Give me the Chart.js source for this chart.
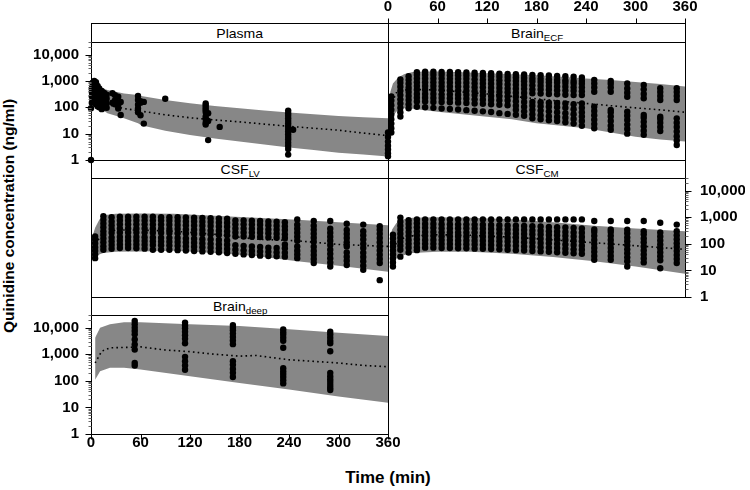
<!DOCTYPE html>
<html>
<head>
<meta charset="utf-8">
<script src="https://cdn.jsdelivr.net/npm/chart.js@4.4.1/dist/chart.umd.min.js"></script>
<style>
  body { margin: 0; background: #fff; }
  #wrap { position: relative; width: 750px; height: 490px; overflow: hidden; background: #fff;
          font-family: "Liberation Sans", Arial, Helvetica, sans-serif; color: #000; }
  #wrap canvas { position: absolute; left: 0; top: 0; }
  .strip { position: absolute; box-sizing: border-box; border: 1px solid #000;
           display: flex; align-items: center; justify-content: center; }
  .strip span { display: inline-block; font-size: 13px; line-height: 1; transform: scaleX(1.08); }
  .strip sub { font-size: 9px; line-height: 0; vertical-align: -3px; }
  .title { position: absolute; font-weight: bold; white-space: nowrap; line-height: 1; }
</style>
</head>
<body>
<div id="wrap">
  <div class="strip" style="left:91px;top:23px;width:298px;height:20px"><span>Plasma</span></div>
  <div class="strip" style="left:388px;top:23px;width:298px;height:20px"><span>Brain<sub>ECF</sub></span></div>
  <div class="strip" style="left:91px;top:160px;width:298px;height:19px"><span>CSF<sub>LV</sub></span></div>
  <div class="strip" style="left:388px;top:160px;width:298px;height:19px"><span>CSF<sub>CM</sub></span></div>
  <div class="strip" style="left:91px;top:297px;width:298px;height:19px"><span>Brain<sub>deep</sub></span></div>
  <div class="title" style="left:9px;top:216px;font-size:15.5px;transform:translate(-50%,-50%) rotate(-90deg)">Quinidine concentration (ng/ml)</div>
  <div class="title" style="left:388px;top:478px;font-size:16px;transform:translate(-50%,-50%) scaleX(1.06)">Time (min)</div>
</div>
<script>
/* axis ticks */
const X_TICKS = [0, 60, 120, 180, 240, 300, 360];
const Y_MIN = 1;
const Y_MAX = 30000;

/* ---- Plasma ---- */
const plasmaObsTimes = [0, 1, 2, 4, 6, 8, 10, 13, 16, 19, 26, 29, 33, 36, 57, 60, 64, 90, 139, 142, 156, 239, 245];
const plasmaObsValues = [
  [1, 92], [150, 260, 380, 520], [200, 320, 450, 650, 850], [180, 300, 420, 600, 800, 1000],
  [130, 220, 350, 500, 700, 900], [110, 200, 300, 450, 650], [100, 170, 260, 380, 520],
  [85, 130, 200, 300, 420], [100, 160, 240, 350], [95, 140, 210, 300],
  [150, 340], [130, 180, 290], [90, 120, 250], [51, 160],
  [65, 90, 125, 190, 270], [50, 150, 170], [24, 160], [210],
  [22, 26, 36, 45, 66, 80, 95, 118, 140], [5.7, 30, 60], [18],
  [1.6, 2.6, 3.5, 4.5, 6, 7.5, 9.5, 12, 15, 19, 24, 30, 38, 48, 60, 75], [14]
];
const plasmaBandTimes = [3, 8, 20, 40, 57, 61, 90, 120, 150, 180, 210, 240, 270, 300, 330, 360];
const plasmaBandUpper = [750, 600, 450, 330, 290, 270, 190, 142, 112, 92, 76, 63, 54, 47, 42, 38];
const plasmaBandLower = [110, 105, 60, 38, 25, 21, 13, 8.9, 6.5, 5, 3.9, 3, 2.4, 1.9, 1.6, 1.35];
const plasmaMedTimes = [5, 10, 20, 40, 60, 90, 120, 150, 180, 210, 240, 270, 300, 330, 360];
const plasmaMedValues = [280, 200, 125, 90, 72, 52, 40, 33, 28, 23, 19, 16, 13.5, 10.5, 8.4];

/* ---- Brain ECF ---- */
const ecfObsTimes = [0, 4, 15, 25, 35, 45, 55, 65, 75, 85, 95, 105, 115, 125, 135, 145, 155, 165,
  175, 185, 195, 205, 215, 225, 235, 250, 270, 290, 310, 330, 350];
const ecfObsValues = [
  [1.4, 1.8, 2.5, 3.5, 5, 7.5, 11],
  [11, 16, 24, 35, 52, 80, 120, 180, 260],
  [45, 65, 95, 140, 200, 290, 420, 600, 850, 1150],
  [92, 130, 190, 270, 380, 550, 780, 1100, 1500],
  [105, 165, 230, 320, 460, 640, 900, 1250, 1700, 2150],
  [100, 165, 230, 320, 460, 640, 900, 1250, 1700, 2250],
  [95, 160, 225, 320, 460, 640, 900, 1250, 1700, 2250],
  [90, 160, 225, 310, 450, 630, 880, 1250, 1700, 2200],
  [86, 155, 220, 310, 440, 620, 870, 1200, 1650, 2200],
  [82, 150, 215, 300, 430, 610, 860, 1200, 1650, 2150],
  [78, 145, 210, 300, 420, 600, 850, 1200, 1600, 2100],
  [74, 140, 200, 290, 410, 580, 820, 1150, 1600, 2050],
  [70, 135, 195, 280, 400, 570, 800, 1100, 1550, 2000],
  [66, 130, 190, 270, 390, 550, 780, 1100, 1500, 1950],
  [60, 125, 185, 265, 380, 540, 760, 1050, 1450, 1900],
  [56, 120, 180, 260, 370, 520, 740, 1050, 1400, 1850],
  [52, 80, 115, 170, 250, 360, 510, 720, 1000, 1350, 1800],
  [48, 70, 105, 160, 240, 350, 500, 700, 980, 1300, 1750],
  [38, 55, 80, 115, 160, 340, 480, 680, 950, 1250, 1700],
  [35, 50, 75, 110, 155, 330, 470, 660, 920, 1200, 1650],
  [32, 46, 70, 105, 150, 320, 460, 640, 900, 1150, 1600],
  [30, 43, 65, 100, 145, 310, 440, 620, 870, 1100, 1550],
  [27, 40, 60, 95, 140, 300, 430, 600, 840, 1050, 1500],
  [24, 36, 55, 85, 130, 290, 420, 580, 800, 1000, 1450],
  [20, 30, 45, 65, 95, 140, 290, 410, 570, 780, 1000, 1350],
  [16, 23, 34, 50, 72, 105, 390, 560, 800, 1100],
  [14, 20, 30, 45, 65, 80, 390, 560, 780, 1000],
  [10, 15, 22, 33, 48, 68, 250, 360, 520, 800],
  [9, 13, 19, 28, 40, 51, 220, 320, 480, 700],
  [12.5, 18, 26, 36, 44, 190, 270, 380, 530],
  [3.7, 5.5, 8, 12, 18, 26, 38, 190, 270, 380, 530]
];
const ecfBandTimes = [1, 3, 6, 10, 15, 20, 30, 45, 60, 90, 120, 150, 180, 210, 240, 270, 300, 330, 360];
const ecfBandUpper = [150, 400, 800, 1100, 1500, 1850, 2200, 2300, 2300, 2150, 1950, 1800, 1650, 1450, 1250, 1080, 920, 760, 610];
const ecfBandLower = [8, 20, 45, 68, 85, 92, 88, 78, 68, 55, 44, 35, 25, 20, 16, 11, 7.7, 6, 5];
const ecfMedTimes = [2, 5, 10, 20, 30, 60, 90, 120, 150, 180, 210, 240, 270, 300, 330, 360];
const ecfMedValues = [30, 150, 350, 450, 480, 450, 380, 320, 260, 210, 170, 140, 115, 95, 80, 65];

/* ---- CSF LV ---- */
const lvObsTimes = [5, 15, 25, 35, 45, 55, 65, 75, 85, 95, 105, 115, 125, 135, 145, 155, 165,
  175, 185, 195, 205, 215, 225, 235, 250, 270, 290, 310, 330, 350];
const lvObsValues = [
  [29, 40, 55, 75, 105, 145, 190],
  [60, 82, 115, 160, 220, 300, 420, 580, 800, 1100],
  [65, 90, 125, 175, 260, 360, 500, 700, 1000],
  [70, 95, 130, 180, 270, 380, 540, 760, 1050],
  [70, 95, 130, 180, 270, 380, 540, 760, 1050],
  [68, 95, 130, 180, 270, 380, 540, 760, 1050],
  [66, 92, 128, 178, 265, 380, 540, 760, 1050],
  [60, 90, 125, 175, 260, 370, 530, 750, 1050],
  [60, 88, 122, 170, 260, 370, 530, 750, 1000],
  [60, 86, 120, 168, 255, 360, 520, 740, 1000],
  [58, 84, 118, 165, 250, 360, 510, 720, 1000],
  [56, 82, 115, 160, 245, 350, 500, 700, 980],
  [54, 78, 110, 155, 240, 340, 490, 690, 960],
  [52, 75, 105, 150, 235, 330, 480, 680, 950],
  [50, 72, 100, 145, 230, 320, 470, 660, 920],
  [48, 68, 96, 140, 220, 310, 450, 640, 900],
  [45, 64, 92, 135, 210, 300, 440, 620, 880],
  [42, 60, 88, 190, 270, 380, 540, 760],
  [40, 57, 84, 190, 270, 380, 540, 760],
  [38, 54, 80, 185, 265, 370, 530, 740],
  [36, 52, 76, 180, 260, 360, 520, 720],
  [35, 50, 72, 175, 250, 350, 500, 700],
  [34, 48, 70, 170, 240, 340, 480, 680],
  [33, 46, 68, 95, 165, 230, 330, 460, 650],
  [29, 40, 55, 80, 130, 185, 260, 370, 520, 830],
  [19, 27, 38, 54, 78, 120, 170, 240, 340, 480, 720],
  [14, 20, 29, 42, 60, 90, 130, 185, 260, 370, 720],
  [16, 23, 33, 47, 80, 115, 165, 235, 330, 570],
  [10.5, 15, 22, 32, 46, 70, 100, 145, 210, 300, 530],
  [4.3, 19, 27, 39, 56, 80, 115, 165, 240, 340, 460]
];
const lvBandTimes = [2, 5, 10, 15, 30, 60, 100, 150, 200, 250, 300, 360];
const lvBandUpper = [200, 400, 800, 1200, 1350, 1400, 1350, 1150, 950, 800, 650, 500];
const lvBandLower = [20, 30, 40, 45, 50, 52, 55, 45, 35, 22, 15, 9];
const lvMedTimes = [5, 15, 30, 60, 100, 150, 200, 250, 300, 360];
const lvMedValues = [100, 250, 330, 330, 300, 230, 150, 130, 95, 80];

/* ---- CSF CM ---- */
const cmObsTimes = [6, 15, 25, 35, 45, 55, 65, 75, 85, 95, 105, 115, 125, 135, 145, 155, 165,
  175, 185, 195, 205, 215, 225, 235, 250, 270, 290, 310, 330, 350];
const cmObsValues = [
  [14, 20, 28, 40, 56, 80, 110, 160, 220],
  [33, 60, 85, 120, 170, 240, 340, 480, 680, 970],
  [47, 72, 100, 140, 200, 280, 400, 560, 780],
  [58, 75, 105, 150, 210, 300, 420, 600, 830],
  [72, 100, 140, 200, 280, 400, 560, 830],
  [72, 100, 140, 200, 280, 400, 560, 830],
  [70, 98, 138, 195, 275, 390, 550, 830],
  [70, 98, 138, 195, 275, 390, 550, 830],
  [68, 96, 135, 190, 270, 385, 540, 830],
  [68, 96, 135, 190, 270, 385, 540, 830],
  [66, 94, 132, 185, 265, 380, 530, 830],
  [65, 92, 130, 185, 260, 370, 520, 830],
  [64, 90, 128, 180, 255, 360, 510, 830],
  [62, 88, 125, 175, 250, 355, 500, 830],
  [60, 86, 122, 170, 245, 350, 490, 830],
  [58, 84, 120, 170, 240, 340, 480, 830],
  [56, 80, 115, 165, 235, 330, 470, 830],
  [54, 78, 112, 160, 230, 320, 460, 830],
  [52, 75, 108, 155, 225, 310, 450, 830],
  [50, 72, 105, 150, 215, 300, 430, 830],
  [48, 70, 100, 145, 210, 290, 420, 830],
  [46, 66, 95, 140, 200, 280, 410, 830],
  [44, 62, 90, 130, 190, 270, 400, 830],
  [42, 60, 85, 125, 180, 260, 380, 830],
  [25, 35, 50, 70, 100, 140, 200, 280, 350, 720],
  [25, 35, 50, 70, 100, 140, 200, 280, 350, 720],
  [14, 22, 31, 44, 62, 88, 125, 175, 250, 340, 720],
  [20, 28, 40, 56, 80, 115, 160, 230, 300, 720],
  [12, 24, 34, 48, 68, 95, 135, 190, 270, 620],
  [19, 27, 38, 54, 76, 105, 150, 210, 300, 530]
];
const cmBandTimes = [2, 5, 10, 15, 30, 60, 100, 150, 200, 250, 300, 360];
const cmBandUpper = [150, 350, 600, 800, 950, 1000, 950, 850, 650, 480, 380, 300];
const cmBandLower = [15, 20, 28, 35, 45, 50, 50, 42, 32, 22, 14, 7.5];
const cmMedTimes = [5, 15, 30, 60, 100, 150, 200, 250, 300, 360];
const cmMedValues = [70, 150, 200, 220, 210, 180, 140, 110, 85, 62];

/* ---- Brain deep ---- */
const deepObsTimes = [53, 114, 172, 233, 290];
const deepObsValues = [
  [375, 470, 1500, 2350, 3600, 5600, 7500, 10000, 13500, 18000],
  [260, 380, 550, 800, 2600, 3800, 5200, 7000, 9500, 12000, 15500],
  [140, 200, 280, 400, 550, 2400, 3300, 4500, 6000, 8000, 10000, 12500],
  [80, 105, 140, 180, 230, 300, 1750, 3200, 4200, 5500, 6800, 8500],
  [45, 55, 70, 90, 115, 150, 200, 1300, 2600, 3200, 4200, 5500, 7000]
];
const deepBandTimes = [5, 11, 23, 40, 60, 120, 180, 240, 300, 360];
const deepBandUpper = [4200, 10000, 13500, 16000, 16000, 13500, 11500, 8800, 6500, 4900];
const deepBandLower = [110, 230, 310, 310, 270, 150, 83, 47, 26, 15];
const deepMedTimes = [5, 13, 23, 40, 60, 90, 120, 150, 180, 200, 240, 255, 300, 330, 360];
const deepMedValues = [470, 1300, 1750, 1800, 1900, 1450, 1250, 1000, 850, 900, 620, 580, 470, 380, 340];

Chart.defaults.font.family = '"Liberation Sans", Arial, Helvetica, sans-serif';
Chart.defaults.color = '#000';

const BAND_GREY = '#878787';
const tickFont = { size: 15, weight: 'bold' };

function columns(times, values) {
  const pts = [];
  times.forEach((t, i) => values[i].forEach(v => pts.push({ x: t, y: v })));
  return pts;
}
function curve(times, values) {
  return times.map((t, i) => ({ x: t, y: values[i] }));
}
function isDecade(v) {
  const l = Math.log10(v);
  return Math.abs(l - Math.round(l)) < 1e-6;
}

// border round the plot + tick marks (short ones for the minor log ticks)
const framePlugin = {
  id: 'frame',
  afterDraw(chart, _args, opts) {
    const { ctx, chartArea: a, scales } = chart;
    const L = Math.round(a.left) + 0.5, R = Math.round(a.right) + 0.5;
    const T = Math.round(a.top) + 0.5, B = Math.round(a.bottom) + 0.5;
    ctx.save();
    ctx.lineWidth = 1;
    ctx.strokeStyle = '#000';
    ctx.strokeRect(L, T, R - L, B - T);
    if (opts.ySide) {
      const x0 = opts.ySide === 'left' ? L : R;
      const dir = opts.ySide === 'left' ? -1 : 1;
      for (let e = 0; e <= 4; e++) {
        for (let m = 1; m <= 9; m++) {
          const v = m * Math.pow(10, e);
          if (v > Y_MAX) break;
          const py = Math.round(scales.y.getPixelForValue(v)) + 0.5;
          ctx.strokeStyle = m === 1 ? '#000' : '#666';
          ctx.beginPath();
          ctx.moveTo(x0, py);
          ctx.lineTo(x0 + dir * (m === 1 ? 6 : 3), py);
          ctx.stroke();
        }
      }
    }
    if (opts.xSide) {
      const y0 = opts.xSide === 'top' ? opts.xEdge + 0.5 : B;
      const dir = opts.xSide === 'top' ? -1 : 1;
      ctx.strokeStyle = '#000';
      X_TICKS.forEach(t => {
        const px = Math.round(scales.x.getPixelForValue(t)) + 0.5;
        ctx.beginPath();
        ctx.moveTo(px, y0);
        ctx.lineTo(px, y0 + dir * 5);
        ctx.stroke();
      });
    }
    ctx.restore();
  }
};

function yScale(side) {
  const s = {
    type: 'logarithmic', min: Y_MIN, max: Y_MAX,
    display: !!side, position: side || 'left',
    border: { display: false },
    grid: { display: false, drawTicks: false },
    ticks: {
      autoSkip: false, font: tickFont, color: '#000',
      padding: side === 'right' ? 15 : 12,
      callback: v => isDecade(v) ? Number(v).toLocaleString('en-US') : ''
    }
  };
  if (side) s.afterFit = sc => { sc.width = side === 'right' ? 60 : 80; sc.paddingTop = 0; sc.paddingBottom = 0; };
  return s;
}

function xScale(side) {
  const s = {
    type: 'linear', min: 0, max: 360,
    display: !!side, position: side || 'bottom',
    border: { display: false },
    grid: { display: false, drawTicks: false },
    ticks: {
      stepSize: 60, autoSkip: false, maxRotation: 0, minRotation: 0,
      font: tickFont, color: '#000', padding: side === 'top' ? 26 : 0
    }
  };
  if (side) s.afterFit = sc => { sc.height = side === 'top' ? 42 : 40; sc.paddingLeft = 0; sc.paddingRight = 0; };
  return s;
}

function panel(p) {
  const canvas = document.createElement('canvas');
  canvas.width = 750;
  canvas.height = 490;
  document.getElementById('wrap').appendChild(canvas);

  const pad = {
    left: p.area.l - (p.ySide === 'left' ? 80 : 0),
    right: 750 - p.area.r - (p.ySide === 'right' ? 60 : 0),
    top: p.area.t - (p.xSide === 'top' ? 42 : 0),
    bottom: 490 - p.area.b - (p.xSide === 'bottom' ? 40 : 0)
  };

  return new Chart(canvas, {
    type: 'line',
    data: {
      datasets: [
        {
          label: 'observed', data: columns(p.obsTimes, p.obsValues), showLine: false,
          pointRadius: 3.2, pointBackgroundColor: '#000', pointBorderWidth: 0,
          borderColor: '#000', clip: false
        },
        {
          label: 'median', data: curve(p.medTimes, p.medValues), pointRadius: 0,
          borderColor: '#000', borderWidth: 1.6, borderDash: [1.6, 3.2], fill: false
        },
        {
          label: 'upper', data: curve(p.bandTimes, p.bandUpper), pointRadius: 0,
          borderColor: 'rgba(0,0,0,0)', backgroundColor: BAND_GREY, fill: '+1'
        },
        {
          label: 'lower', data: curve(p.bandTimes, p.bandLower), pointRadius: 0,
          borderColor: 'rgba(0,0,0,0)', fill: false
        }
      ]
    },
    options: {
      responsive: false, animation: false, devicePixelRatio: 1, events: [],
      layout: { padding: pad },
      scales: { x: xScale(p.xSide), y: yScale(p.ySide) },
      plugins: {
        legend: { display: false }, tooltip: { enabled: false },
        frame: { ySide: p.ySide, xSide: p.xSide, xEdge: p.xEdge }
      }
    },
    plugins: [framePlugin]
  });
}

panel({ area: { l: 91, t: 42, r: 388, b: 160 }, ySide: 'left',
  obsTimes: plasmaObsTimes, obsValues: plasmaObsValues,
  bandTimes: plasmaBandTimes, bandUpper: plasmaBandUpper, bandLower: plasmaBandLower,
  medTimes: plasmaMedTimes, medValues: plasmaMedValues });

panel({ area: { l: 388, t: 42, r: 685, b: 160 }, xSide: 'top', xEdge: 23,
  obsTimes: ecfObsTimes, obsValues: ecfObsValues,
  bandTimes: ecfBandTimes, bandUpper: ecfBandUpper, bandLower: ecfBandLower,
  medTimes: ecfMedTimes, medValues: ecfMedValues });

panel({ area: { l: 91, t: 178, r: 388, b: 297 },
  obsTimes: lvObsTimes, obsValues: lvObsValues,
  bandTimes: lvBandTimes, bandUpper: lvBandUpper, bandLower: lvBandLower,
  medTimes: lvMedTimes, medValues: lvMedValues });

panel({ area: { l: 388, t: 178, r: 685, b: 297 }, ySide: 'right',
  obsTimes: cmObsTimes, obsValues: cmObsValues,
  bandTimes: cmBandTimes, bandUpper: cmBandUpper, bandLower: cmBandLower,
  medTimes: cmMedTimes, medValues: cmMedValues });

panel({ area: { l: 91, t: 315, r: 388, b: 434 }, ySide: 'left', xSide: 'bottom',
  obsTimes: deepObsTimes, obsValues: deepObsValues,
  bandTimes: deepBandTimes, bandUpper: deepBandUpper, bandLower: deepBandLower,
  medTimes: deepMedTimes, medValues: deepMedValues });
</script>
</body>
</html>
